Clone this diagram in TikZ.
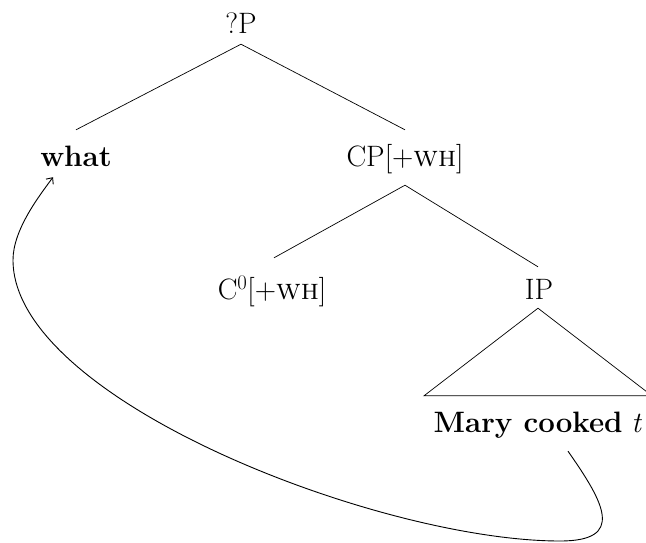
\documentclass[tikz,border=0pt]{standalone}
\usepackage{fontspec}
\usetikzlibrary{arrows.meta}
\begin{document}
\begin{tikzpicture}[x=1pt,y=-1pt,
  lbl/.style={anchor=base, inner xsep=2pt, inner ysep=6pt,
    text height=30pt, text depth=5pt,
    font=\fontsize{29.5}{34}\selectfont},
  branch/.style={line width=0.7pt},
  movement/.style={line width=0.9pt, -{Straight Barb[length=5pt,width=9pt]}}]
\useasboundingbox (0,0) rectangle (646,542);

% labels of the tree
\node[lbl] (root) at (241,33)  {?P};
\node[lbl] (what) at (76,166)  {\textbf{what}};
\node[lbl] (cp)   at (405,166) {CP[+\textsc{wh}]};
\node[lbl] (c0)   at (272,299) {C$^0$[+\textsc{wh}]};
\node[lbl] (ip)   at (539,299) {IP};
\node[lbl] (mary) at (538,432) {\textbf{Mary cooked} \textit{t}};

% branches
\draw[branch] (root.south) -- (what.north);
\draw[branch] (root.south) -- (cp.north);
\draw[branch] ([yshift=-8pt]cp.south) -- ([xshift=2pt,yshift=5pt]c0.north);
\draw[branch] ([yshift=-8pt]cp.south) -- ([xshift=-1pt,yshift=-4pt]ip.north);
\draw[branch] ([xshift=-1pt,yshift=2pt]ip.south) -- ([xshift=-114pt]mary.north)
  -- ([xshift=114pt]mary.north) -- cycle;

% movement arrow from the trace back to the moved phrase
\coordinate (trace) at ([xshift=30pt,yshift=-8pt]mary.south);
\coordinate (landing) at ([xshift=-23pt]what.south);
\draw[movement] (trace) .. controls (605,504) and (625,541) .. (560,541)
  .. controls (380,541) and (13,400) .. (13,260)
  .. controls (13,230) and (38.75,196.5) .. (landing);
\end{tikzpicture}
\end{document}
